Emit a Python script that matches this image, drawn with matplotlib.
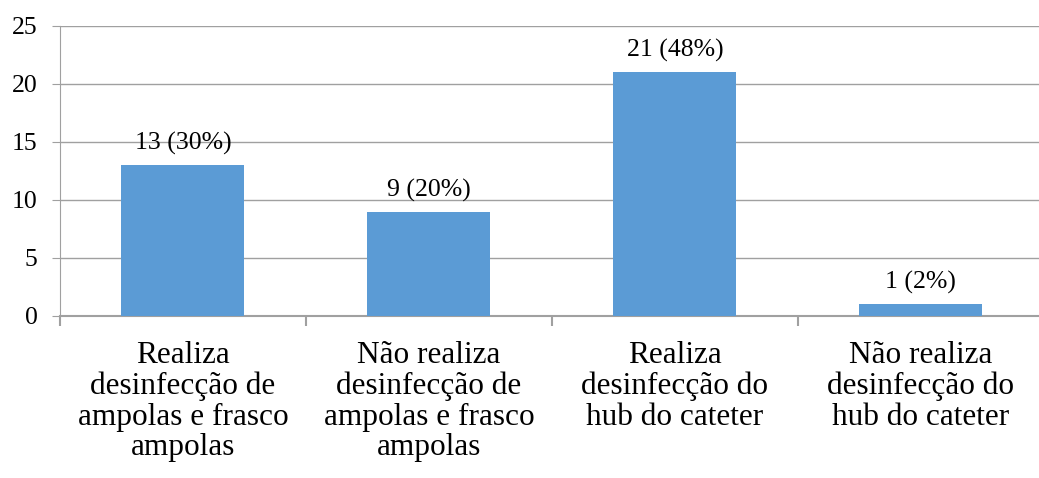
import matplotlib.pyplot as plt
import numpy as np

# DATOS
categorias = ["Realiza\ndesinfecção de\nampolas e frasco\nampolas",
              "Não realiza\ndesinfecção de\nampolas e frasco\nampolas",
              "Realiza\ndesinfecção do\nhub do cateter",
              "Não realiza\ndesinfecção do\nhub do cateter"]
valores = [13, 9, 21, 1]
etiquetas = ["13 (30%)", "9 (20%)", "21 (48%)", "1 (2%)"]
yticks = [0, 5, 10, 15, 20, 25]

plt.rcParams['font.family'] = ['Liberation Serif', 'DejaVu Serif']
gris = '#a0a0a0'

fig = plt.figure(figsize=(10.39, 4.78), dpi=100)
# el área del gráfico sale un poco por la derecha, como en el original
ax = fig.add_axes([0.0577, 0.339, 0.947, 0.607])

x = np.arange(len(valores))
ax.bar(x, valores, width=0.5, color='#5B9BD5', zorder=3)

for xi, v, t in zip(x, valores, etiquetas):
    ax.text(xi, v + 0.85, t, ha='center', va='bottom', fontsize=18.5)

ax.set_xlim(-0.5, len(valores) - 0.5)
ax.set_ylim(0, 25)
ax.set_yticks(yticks)
ax.tick_params(axis='y', labelsize=18.5, length=6, color=gris, pad=10)
ax.yaxis.grid(True, color=gris, linewidth=1, zorder=0)

# ticks del eje x entre categorías
ax.set_xticks(np.arange(-0.5, len(valores)), minor=False)
ax.set_xticklabels([])
ax.tick_params(axis='x', direction='out', length=7, width=1.5, color=gris)
ax.set_xticks(x, minor=True)
ax.set_xticklabels(categorias, minor=True, fontsize=22.5, linespacing=1.07)
ax.tick_params(axis='x', which='minor', length=0, pad=18)

for lado in ['top', 'right']:
    ax.spines[lado].set_visible(False)
ax.spines['left'].set_color(gris)
ax.spines['bottom'].set_color(gris)
ax.spines['bottom'].set_linewidth(1.5)

fig.savefig('out.png', dpi=100)
